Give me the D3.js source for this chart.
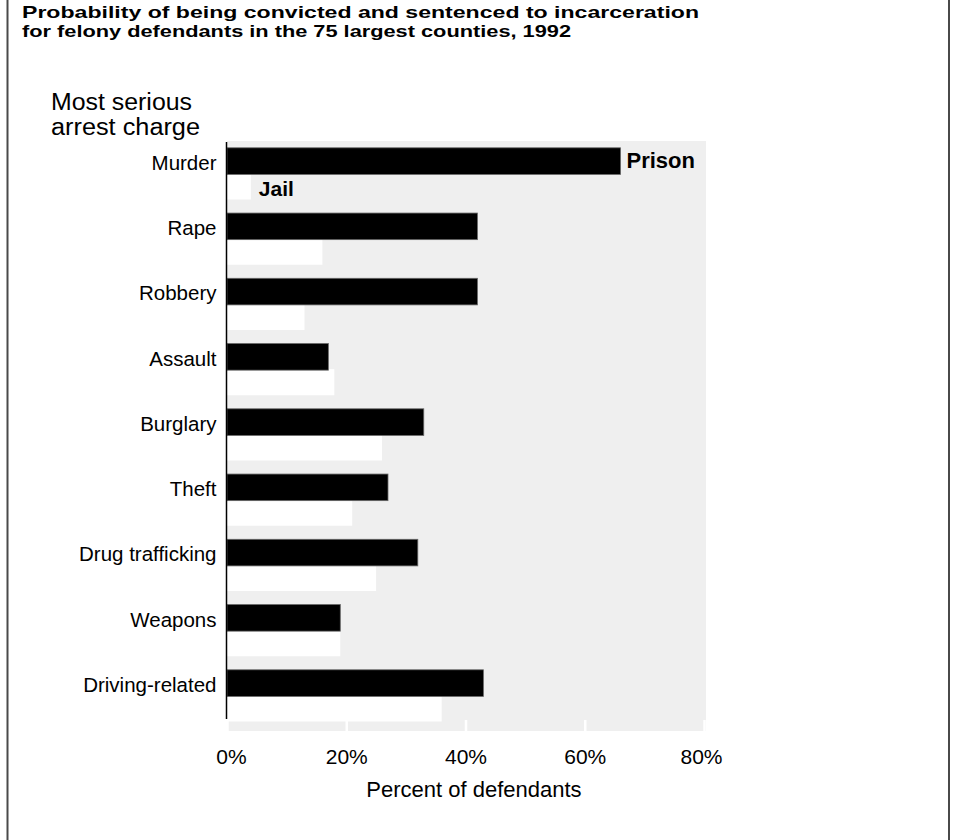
<!DOCTYPE html>
<html>
<head>
<meta charset="utf-8">
<script src="https://cdn.jsdelivr.net/npm/d3@7"></script>
<style>
  html, body { margin: 0; padding: 0; background: #fff; }
  svg { display: block; }
  text { font-family: "Liberation Sans", Arial, sans-serif; fill: #000; }
</style>
</head>
<body>
<svg id="chart" width="956" height="840"></svg>
<script>
const categories = ["Murder", "Rape", "Robbery", "Assault", "Burglary", "Theft", "Drug trafficking", "Weapons", "Driving-related"];
const prisonValues = [66, 42, 42, 17, 33, 27, 32, 19, 43];
const jailValues = [4, 16, 13, 18, 26, 21, 25, 19, 36];
const seriesNames = ["Prison", "Jail"];
const tickValues = [0, 20, 40, 60, 80];
const tickLabels = ["0%", "20%", "40%", "60%", "80%"];
const titleLines = ["Probability of being convicted and sentenced to incarceration",
                    "for felony defendants in the 75 largest counties, 1992"];
const yTitleLines = ["Most serious", "arrest charge"];
const xTitle = "Percent of defendants";

const rows = categories.map((c, i) => ({ cat: c, Prison: prisonValues[i], Jail: jailValues[i] }));

const svg = d3.select("#chart");

// frame side lines
svg.append("line").attr("x1", 7.5).attr("x2", 7.5).attr("y1", 0).attr("y2", 840)
  .attr("stroke", "#4a4a4a").attr("stroke-width", 2);
svg.append("line").attr("x1", 949).attr("x2", 949).attr("y1", 0).attr("y2", 840)
  .attr("stroke", "#4a4a4a").attr("stroke-width", 2);

// title
svg.append("text").attr("x", 22).attr("y", 18).attr("font-weight", "bold").attr("font-size", 17)
  .attr("textLength", 677).attr("lengthAdjust", "spacingAndGlyphs").text(titleLines[0]);
svg.append("text").attr("x", 22).attr("y", 37).attr("font-weight", "bold").attr("font-size", 17)
  .attr("textLength", 549).attr("lengthAdjust", "spacingAndGlyphs").text(titleLines[1]);

// y title
svg.append("text").attr("x", 51).attr("y", 110).attr("font-size", 23)
  .attr("textLength", 141).attr("lengthAdjust", "spacingAndGlyphs").text(yTitleLines[0]);
svg.append("text").attr("x", 51).attr("y", 135).attr("font-size", 23)
  .attr("textLength", 149).attr("lengthAdjust", "spacingAndGlyphs").text(yTitleLines[1]);

const x = d3.scaleLinear().domain([0, 80]).range([227, 704]);
const y = d3.scaleBand().domain(categories).range([147.3, 721.5]).paddingInner(0.2).paddingOuter(0);
const ySub = d3.scaleBand().domain(seriesNames).range([0, y.bandwidth()]).padding(0);

// gray panel
svg.append("rect").attr("x", x(0)).attr("y", 141).attr("width", x(80) + 2 - x(0)).attr("height", 590)
  .attr("fill", "#efefef");

// bars
const g = svg.append("g");
const groups = g.selectAll("g.grp").data(rows).join("g").attr("class", "grp")
  .attr("transform", d => `translate(0,${y(d.cat)})`);

groups.append("rect")
  .attr("x", x(0)).attr("y", ySub("Jail"))
  .attr("width", d => x(d.Jail) - x(0)).attr("height", ySub.bandwidth())
  .attr("fill", "#ffffff");

groups.append("rect")
  .attr("x", x(0)).attr("y", ySub("Prison") + 0.5)
  .attr("width", d => x(d.Prison) - x(0)).attr("height", ySub.bandwidth() + 0.5)
  .attr("fill", "#000").attr("stroke", "#666").attr("stroke-width", 0.8);

// white tick marks at bottom of panel
const xAxis = d3.axisBottom(x).tickValues(tickValues).tickFormat((d, i) => tickLabels[i])
  .tickSize(11).tickPadding(18);
const ax = svg.append("g").attr("transform", "translate(0,720)").call(xAxis);
ax.select(".domain").remove();
ax.selectAll(".tick line").attr("stroke", "#fff").attr("stroke-width", 2.5);
ax.selectAll(".tick text").attr("font-size", 21).attr("fill", "#000")
  .attr("font-family", "'Liberation Sans', Arial, sans-serif").attr("dy", "0.71em")
  .attr("dx", (d, i) => i === 0 ? 4 : (i === 4 ? -3 : 0));

// y axis labels
const yAxis = d3.axisLeft(y).tickSize(0).tickPadding(10);
const ay = svg.append("g").attr("transform", `translate(${x(0) - 0.5},0)`).call(yAxis);
ay.select(".domain").remove();
ay.selectAll(".tick text")
  .attr("font-size", 20.5).attr("fill", "#000")
  .attr("font-family", "'Liberation Sans', Arial, sans-serif")
  .attr("y", -y.bandwidth() / 2 + ySub("Prison") + ySub.bandwidth() / 2 + 3);

svg.append("line").attr("x1", x(0) - 0.5).attr("x2", x(0) - 0.5).attr("y1", 142).attr("y2", 719)
  .attr("stroke", "#000").attr("stroke-width", 1.5);

// series labels
const first = rows[0];
svg.append("text")
  .attr("x", x(first.Prison) + 6).attr("y", y(first.cat) + ySub("Prison") + ySub.bandwidth() / 2)
  .attr("dy", "0.36em").attr("font-weight", "bold").attr("font-size", 22).text(seriesNames[0]);
svg.append("text")
  .attr("x", x(first.Jail) + 8).attr("y", y(first.cat) + ySub("Jail") + ySub.bandwidth() / 2 + 2)
  .attr("dy", "0.36em").attr("font-weight", "bold").attr("font-size", 21).text(seriesNames[1]);

// x title
svg.append("text").attr("x", 474).attr("y", 797).attr("text-anchor", "middle")
  .attr("font-size", 22).text(xTitle);
</script>
</body>
</html>
